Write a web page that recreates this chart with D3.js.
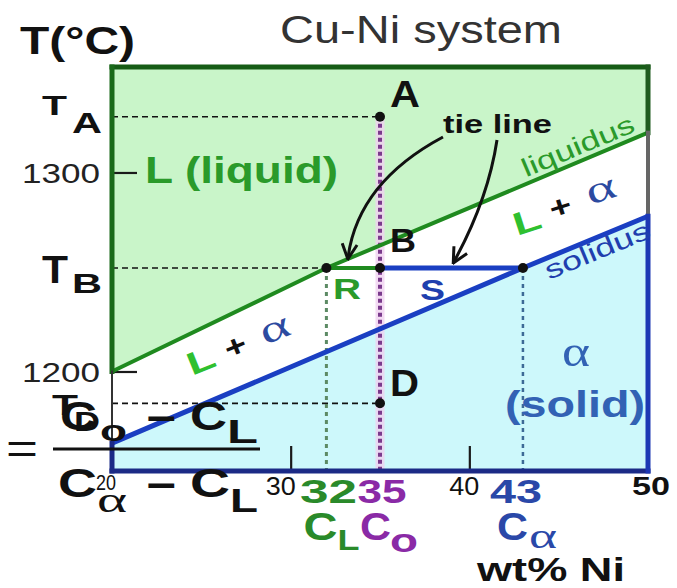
<!DOCTYPE html>
<html>
<head>
<meta charset="utf-8">
<script src="https://cdn.jsdelivr.net/npm/d3@7"></script>
<style>
  html, body { margin: 0; padding: 0; background: #fff; }
  svg { display: block; }
</style>
</head>
<body>
<div id="chart"></div>
<script>
// Cu-Ni binary phase diagram with the lever-rule construction at point B

// ---- data ----
const compDomain = [20, 50];          // wt% Ni shown
const tempDomain = [1150, 1353];      // °C shown
const xTicks = [20, 30, 40, 50];
const yTicks = [1200, 1300];
const liquidusNi = [20, 32, 50];
const liquidusT  = [1200, 1252, 1320];
const solidusNi  = [20, 43, 50];
const solidusT   = [1164, 1252, 1278];
const alloyNi = 35;                   // C0
const liquidNi = 32;                  // CL
const alphaNi = 43;                   // Cα
const tempA = 1328, tempB = 1252, tempD = 1184;

const W = 677, H = 588;
const SANS = "'Liberation Sans', Arial, Helvetica, sans-serif";
const SERIF = "'Liberation Serif', 'Times New Roman', serif";
const GREEN = "#2a9a2a", BLUE = "#1f3fae", PURPLE = "#8a2aa6", LBLUE = "#3262b4";

const svg = d3.select("#chart").append("svg").attr("width", W).attr("height", H);

const x = d3.scaleLinear().domain(compDomain).range([112, 648]);
const y = d3.scaleLinear().domain(tempDomain).range([471, 67]);

const liquidus = liquidusNi.map((c, i) => [c, liquidusT[i]]);
const solidus = solidusNi.map((c, i) => [c, solidusT[i]]);

function tempAt(curve, c) {
  for (let i = 0; i < curve.length - 1; i++) {
    const [c0, t0] = curve[i], [c1, t1] = curve[i + 1];
    if (c >= c0 && c <= c1) return t0 + (t1 - t0) * (c - c0) / (c1 - c0);
  }
  return curve[curve.length - 1][1];
}

// phase-field fills
svg.append("path")
  .attr("d", d3.area().x(d => x(d[0])).y0(y(tempDomain[1])).y1(d => y(d[1]))(liquidus))
  .attr("fill", "#c9f5c9");
svg.append("path")
  .attr("d", d3.area().x(d => x(d[0])).y0(y(tempDomain[0])).y1(d => y(d[1]))(solidus))
  .attr("fill", "#cdf8fb");

// inner ticks
const xAxis = svg.append("g").attr("transform", `translate(0,${y(tempDomain[0])})`)
  .call(d3.axisBottom(x).tickValues(xTicks).tickSize(-25).tickFormat(""));
const yAxis = svg.append("g").attr("transform", `translate(${x(compDomain[0])},0)`)
  .call(d3.axisLeft(y).tickValues(yTicks).tickSize(-25).tickFormat(""));
[xAxis, yAxis].forEach(a => {
  a.select(".domain").remove();
  a.selectAll(".tick line").attr("stroke", "#1a1a1a").attr("stroke-width", 2.2);
});

// dashed temperature guides
const dash = svg.append("g").attr("stroke", "#111").attr("stroke-width", 1.6).attr("stroke-dasharray", "6,4");
[[tempA, alloyNi], [tempB, liquidNi], [tempD, alloyNi]].forEach(([t, c]) => {
  dash.append("line").attr("x1", x(compDomain[0])).attr("x2", x(c)).attr("y1", y(t)).attr("y2", y(t));
});

// vertical composition guides
svg.append("line").attr("x1", x(alloyNi)).attr("x2", x(alloyNi))
  .attr("y1", y(tempA)).attr("y2", y(tempDomain[0]))
  .attr("stroke", "#f1d2f1").attr("stroke-width", 9).attr("opacity", 0.8);
svg.append("line").attr("x1", x(alloyNi)).attr("x2", x(alloyNi))
  .attr("y1", y(tempA)).attr("y2", y(tempDomain[0]))
  .attr("stroke", "#7a3a8c").attr("stroke-width", 4).attr("stroke-dasharray", "4,3");
svg.append("line").attr("x1", x(liquidNi)).attr("x2", x(liquidNi))
  .attr("y1", y(tempB)).attr("y2", y(tempDomain[0]))
  .attr("stroke", "#5c8a64").attr("stroke-width", 3).attr("stroke-dasharray", "4,4");
svg.append("line").attr("x1", x(alphaNi)).attr("x2", x(alphaNi))
  .attr("y1", y(tempB)).attr("y2", y(tempDomain[0]))
  .attr("stroke", "#3d6a96").attr("stroke-width", 2.5).attr("stroke-dasharray", "4,4");

// liquidus and solidus curves
const line = d3.line().x(d => x(d[0])).y(d => y(d[1]));
svg.append("path").attr("d", line(liquidus)).attr("fill", "none")
  .attr("stroke", "#1f8a1f").attr("stroke-width", 4);
svg.append("path").attr("d", line(solidus)).attr("fill", "none")
  .attr("stroke", "#1a3fc2").attr("stroke-width", 5);

// tie line at T_B
svg.append("line").attr("x1", x(alloyNi)).attr("x2", x(alphaNi))
  .attr("y1", y(tempB)).attr("y2", y(tempB)).attr("stroke", "#1a3fc2").attr("stroke-width", 5);
svg.append("line").attr("x1", x(liquidNi)).attr("x2", x(alloyNi))
  .attr("y1", y(tempB)).attr("y2", y(tempB)).attr("stroke", "#1f8a1f").attr("stroke-width", 4);

// frame, coloured by the phase field it bounds
const xl = x(compDomain[0]), xr = x(compDomain[1]), yt = y(tempDomain[1]), yb = y(tempDomain[0]);
function seg(x1, y1, x2, y2, color, w) {
  svg.append("line").attr("x1", x1).attr("y1", y1).attr("x2", x2).attr("y2", y2)
    .attr("stroke", color).attr("stroke-width", w).attr("stroke-linecap", "square");
}
seg(xl, yt, xr, yt, "#165c16", 5);
seg(xl, yt, xl, y(liquidusT[0]), "#1a6a1a", 5);
seg(xl, y(liquidusT[0]), xl, y(solidusT[0]), "#333", 2);
seg(xl, y(solidusT[0]), xl, yb, "#1b2a86", 5);
seg(xl, yb, xr, yb, "#1b2a86", 5);
seg(xr, yt, xr, y(liquidusT[2]), "#1e5a1e", 5);
seg(xr, y(liquidusT[2]), xr, y(solidusT[2]), "#666", 4);
seg(xr, y(solidusT[2]), xr, yb, "#1c38b4", 5);

// points A, R, B, Cα, D
[[alloyNi, tempA], [liquidNi, tempB], [alloyNi, tempB], [alphaNi, tempB], [alloyNi, tempD]]
  .forEach(([c, t]) => svg.append("circle").attr("cx", x(c)).attr("cy", y(t)).attr("r", 5).attr("fill", "#111"));

// arrows from the "tie line" note
svg.append("defs").append("marker").attr("id", "head")
  .attr("viewBox", "0 0 12 12").attr("refX", 11).attr("refY", 6)
  .attr("markerWidth", 18).attr("markerHeight", 18).attr("markerUnits", "userSpaceOnUse")
  .attr("orient", "auto")
  .append("path").attr("d", "M1,1 L11,6 L1,11").attr("fill", "none").attr("stroke", "#111").attr("stroke-width", 2);
const e1 = [x(33.2), y(tempB) - 9], e2 = [x(39.1), y(tempB) - 5];
svg.append("path").attr("d", `M443,137 Q357,183 ${e1[0]},${e1[1]}`)
  .attr("fill", "none").attr("stroke", "#111").attr("stroke-width", 3).attr("marker-end", "url(#head)");
svg.append("path").attr("d", `M497,140 Q488,200 ${e2[0]},${e2[1]}`)
  .attr("fill", "none").attr("stroke", "#111").attr("stroke-width", 3).attr("marker-end", "url(#head)");

// ---- text ----
function txt(s, px, py, o) {
  const t = svg.append("text").attr("x", px).attr("y", py).text(s)
    .attr("font-family", o.family || SANS).attr("font-size", o.size)
    .attr("font-weight", o.bold ? "bold" : "normal").attr("fill", o.fill || "#111");
  if (o.anchor) t.attr("text-anchor", o.anchor);
  if (o.w) t.attr("textLength", o.w).attr("lengthAdjust", "spacingAndGlyphs");
  if (o.rot) t.attr("transform", `rotate(${o.rot},${px},${py})`);
  return t;
}

txt("Cu-Ni system", 280, 43, { size: 38, w: 282, fill: "#333" });
txt("T(°C)", 20, 54, { size: 38, w: 115, bold: true });

// temperature markers
txt("T", 42, y(tempA) - 2, { size: 28, w: 25, bold: true });
txt("A", 72, y(tempA) + 16, { size: 29, w: 30, bold: true });
txt("T", 42, y(tempB) + 15, { size: 38, w: 26, bold: true });
txt("B", 72, y(tempB) + 25, { size: 28, w: 30, bold: true });
txt("T", 52, y(tempD) + 12, { size: 30, w: 26, bold: true });
txt("D", 74, y(tempD) + 28, { size: 28, w: 26, bold: true });

yTicks.forEach(v => txt(String(v), 100, y(v) + 11, { size: 27, w: 78, anchor: "end", fill: "#222" }));

txt("L (liquid)", 145, 183, { size: 37, w: 193, bold: true, fill: GREEN });

txt("A", x(alloyNi) + 10, y(tempA) - 10, { size: 37, w: 30, bold: true });
txt("B", x(alloyNi) + 10, y(tempB) - 16, { size: 34, w: 26, bold: true });
txt("D", x(alloyNi) + 10, y(tempD) - 7, { size: 36, w: 29, bold: true });
txt("R", 333, y(tempB) + 31, { size: 30, w: 28, bold: true, fill: GREEN });
txt("S", 420, y(tempB) + 32, { size: 30, w: 25, bold: true, fill: BLUE });
txt("tie line", 443, 133, { size: 26, w: 109, bold: true });

// curve names written along the curves
function along(curve, c0, c1, c, offset, s, o) {
  const dx = x(c1) - x(c0), dy = y(tempAt(curve, c1)) - y(tempAt(curve, c0));
  const ang = Math.atan2(dy, dx);
  const px = x(c) - Math.sin(ang) * offset, py = y(tempAt(curve, c)) + Math.cos(ang) * offset;
  return txt(s, px, py, Object.assign({ anchor: "middle", rot: ang * 180 / Math.PI }, o));
}
along(liquidus, 32, 50, 46.4, -6, "liquidus", { size: 26, w: 120, fill: GREEN });
along(solidus, 43, 50, 46.9, 21, "solidus", { size: 26, w: 112, fill: BLUE });

// two-phase field labels
function twoPhase(lx, ly, px, py, ax, ay, rot) {
  txt("L", lx, ly, { size: 32, w: 28, bold: true, fill: "#2fc02f", rot: rot });
  txt("+", px, py, { size: 30, w: 22, bold: true, rot: rot });
  txt("α", ax, ay, { size: 38, w: 30, family: SERIF, fill: "#2c4aa0", rot: rot });
}
twoPhase(517, 236, 553, 220, 590, 205, -18);
twoPhase(192, 376, 229, 360, 265, 345, -22);

txt("α", 562, 366, { size: 44, w: 28, family: SERIF, fill: LBLUE });
txt("(solid)", 505, 417, { size: 36, w: 140, bold: true, fill: LBLUE });

// composition axis labels
const nudge = { 20: -6, 30: -10, 40: -5, 50: 3 };
xTicks.forEach(v => {
  if (v === 20) txt("20", x(v) + nudge[v], 490, { size: 22, w: 20, anchor: "middle" });
  else txt(String(v), x(v) + nudge[v], 495, { size: 26, w: v === 50 ? 38 : 30, anchor: "middle", bold: v === 50 });
});
txt(String(liquidNi), x(liquidNi) + 2, 503, { size: 34, w: 57, anchor: "middle", bold: true, fill: "#2a8a2a" });
txt(String(alloyNi), x(alloyNi) + 2, 503, { size: 34, w: 49, anchor: "middle", bold: true, fill: PURPLE });
txt(String(alphaNi), x(alphaNi) - 7, 503, { size: 34, w: 52, anchor: "middle", bold: true, fill: "#2a48a8" });

txt("C", x(liquidNi) - 23, 540, { size: 38, w: 34, bold: true, fill: "#2a8a2a" });
txt("L", x(liquidNi) + 11, 550, { size: 30, w: 22, bold: true, fill: "#2a8a2a" });
txt("C", x(alloyNi) - 20, 540, { size: 38, w: 31, bold: true, fill: PURPLE });
txt("o", x(alloyNi) + 10, 552, { size: 34, w: 28, bold: true, fill: PURPLE });
txt("C", x(alphaNi) - 26, 540, { size: 38, w: 31, bold: true, fill: "#2a48a8" });
txt("α", x(alphaNi) + 6, 548, { size: 36, w: 28, family: SERIF, fill: "#2a48a8" });

txt("wt% Ni", 477, 581, { size: 33, w: 148, bold: true });

// lever-rule fraction
txt("=", 6, 463, { size: 42, w: 32 });
svg.append("line").attr("x1", 53).attr("x2", 260).attr("y1", 449).attr("y2", 449)
  .attr("stroke", "#111").attr("stroke-width", 3);
txt("C", 60, 430, { size: 40, w: 37, bold: true });
txt("o", 100, 441, { size: 30, w: 27, bold: true });
txt("−", 146, 432, { size: 40, w: 30, bold: true });
txt("C", 190, 430, { size: 40, w: 37, bold: true });
txt("L", 227, 443, { size: 34, w: 31, bold: true });
txt("C", 58, 497, { size: 40, w: 39, bold: true });
txt("α", 97, 512, { size: 36, w: 30, family: SERIF });
txt("−", 146, 499, { size: 40, w: 30, bold: true });
txt("C", 190, 497, { size: 40, w: 40, bold: true });
txt("L", 230, 512, { size: 34, w: 28, bold: true });
</script>
</body>
</html>
